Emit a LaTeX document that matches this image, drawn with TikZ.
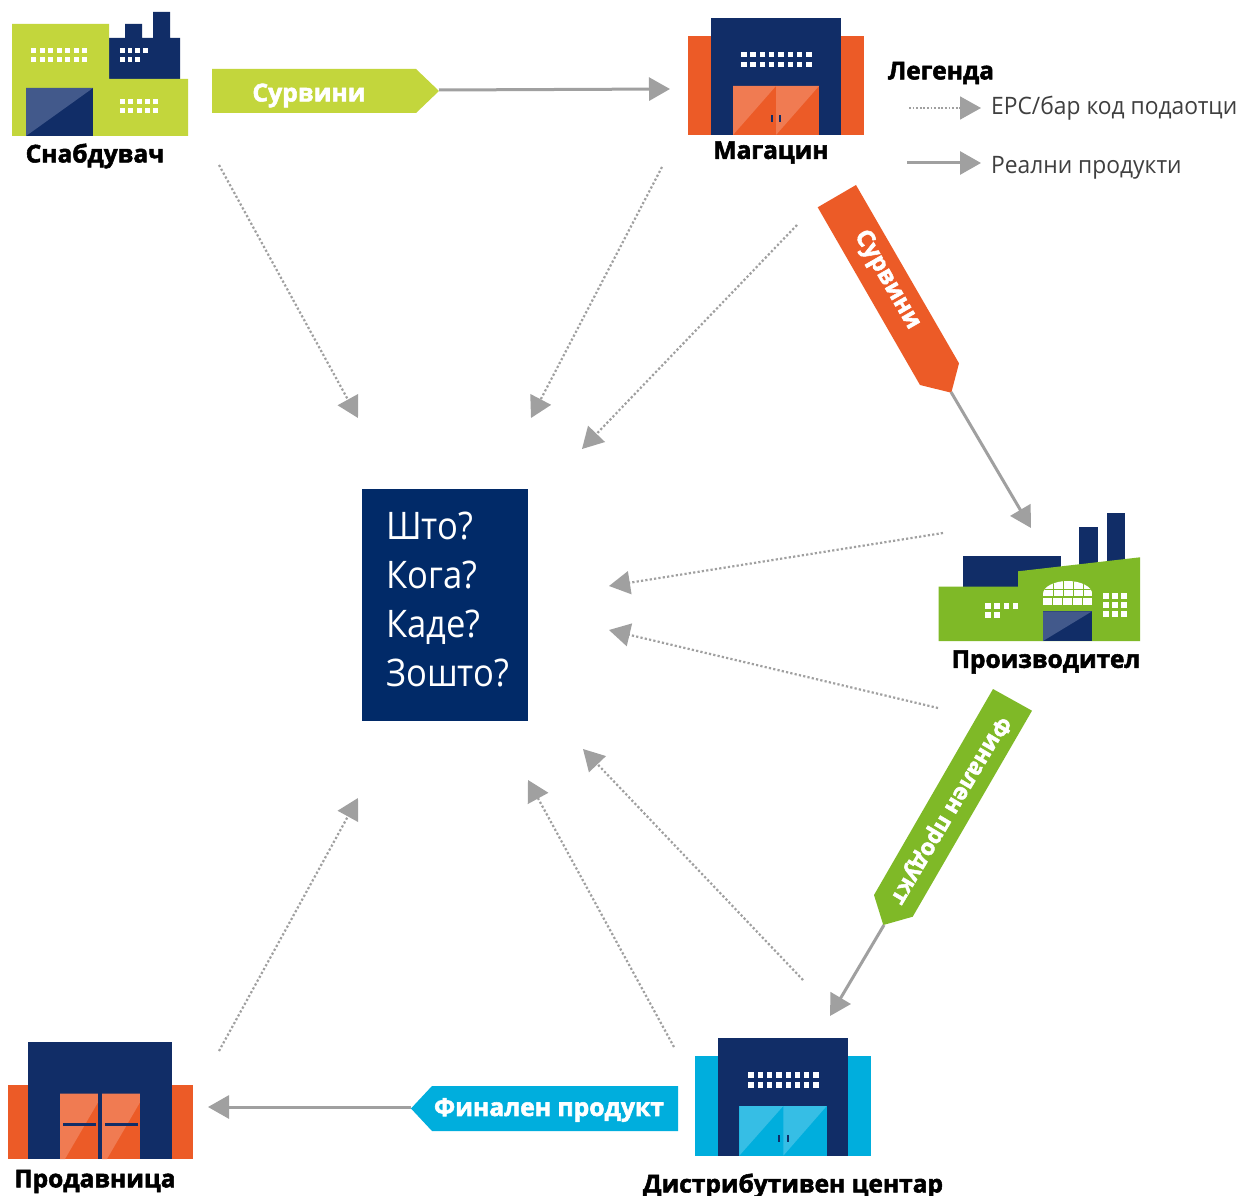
\documentclass[tikz,border=0pt]{standalone}
\usepackage{fontspec}
\setmainfont{Open Sans}
\newfontfamily\heavy[FakeBold=2.2]{Open Sans}
\newfontfamily\boxfont[FakeStretch=0.91]{Open Sans}
\newfontfamily\legfont[FakeStretch=0.95]{Open Sans}
\usetikzlibrary{arrows.meta}
\definecolor{navy}{HTML}{112D67}
\definecolor{boxnavy}{HTML}{012A68}
\definecolor{doornavy}{HTML}{42598B}
\definecolor{orangeM}{HTML}{EC5B27}
\definecolor{orangeL}{HTML}{F07B52}
\definecolor{lime}{HTML}{C3D63C}
\definecolor{greenM}{HTML}{7FB927}
\definecolor{blueM}{HTML}{00AEDD}
\definecolor{blueL}{HTML}{36BEE5}
\definecolor{arrowgray}{HTML}{A0A0A0}
\definecolor{legtext}{HTML}{3F3F3F}
\tikzset{
  flowsolid/.style={draw=arrowgray,line width=3pt,-{Triangle[length=21pt,width=23pt]}},
  flowdots/.style={draw=arrowgray,line width=2.2pt,dash pattern=on 2.2pt off 2.2pt,-{Triangle[length=21pt,width=23pt]}},
  legdots/.style={draw=arrowgray,line width=1.8pt,dash pattern=on 1.8pt off 1.8pt,-{Triangle[length=21pt,width=23pt]}},
  bldlabel/.style={font=\heavy\bfseries\fontsize{24.5}{26}\selectfont,text=black,inner sep=0pt},
  taglabel/.style={font=\heavy\bfseries\fontsize{24.7}{26}\selectfont,text=white,inner sep=0pt},
  legendtext/.style={font=\legfont\fontsize{24}{28}\selectfont,text=legtext,inner sep=0pt,anchor=west},
}
% x, y (top left), columns, rows, dx, dy, size w, size h, colour
\newcommand{\winGrid}[9]{%
  \foreach \cx in {1,...,#3}{\foreach \ry in {1,...,#4}{%
    \fill[#9] ({#1+(\cx-1)*#5},{#2+(\ry-1)*#6}) rectangle +(#7,#8);}}}
\begin{document}
\begin{tikzpicture}[x=1pt,y=-1pt]
\useasboundingbox (0,0) rectangle (1243,1196);
\fill[white] (0,0) rectangle (1243,1196);

% Supplier
\fill[navy] (109,38) -- (125,38) -- (125,24) -- (142,24) -- (142,38) -- (153,38) -- (153,12) -- (170,12) -- (170,38) -- (180,38) -- (180,79) -- (109,79) -- cycle;
\fill[lime] (12,24) -- (109,24) -- (109,79) -- (188,79) -- (188,136) -- (12,136) -- cycle;
\fill[navy] (26,88) rectangle (93,136);
\fill[doornavy] (26,88) -- (93,88) -- (26,136) -- cycle;
\winGrid{31}{48}{7}{2}{8.5}{9}{5}{5}{white}
\winGrid{120}{48}{4}{1}{7.7}{9}{4.5}{5}{white}
\winGrid{120}{57}{3}{1}{7.7}{9}{4.5}{5}{white}
\winGrid{120}{99}{5}{2}{8.3}{9.5}{5}{5}{white}
\node[bldlabel] (snab) at (95,156) {Снабдувач};

% Warehouse
\fill[orangeM] (688,36) rectangle (864,135);
\fill[navy] (711,18) rectangle (841,135);
\fill[orangeM] (733,86) rectangle (819,135);
\fill[orangeL] (733,86) -- (776,86) -- (733,135) -- cycle;
\fill[orangeL] (776,86) -- (819,86) -- (776,135) -- cycle;
\winGrid{741}{52}{8}{2}{9.3}{10}{5.5}{5.5}{white}
\fill[navy] (771,115) rectangle +(2,7);
\fill[navy] (779,115) rectangle +(2,7);
\node[bldlabel] (mag) at (771,152.5) {Магацин};

% Manufacturer
\fill[navy] (963,555.5) rectangle (1061,590);
\fill[navy] (1079,526.5) rectangle (1097.5,570);
\fill[navy] (1107,512.5) rectangle (1125,565);
\fill[greenM] (938.7,586.7) -- (1018,586.7) -- (1018,571.3) -- (1140,557.3) -- (1140,641) -- (938.7,641) -- cycle;
\fill[navy] (1043,611.3) rectangle (1092,641);
\fill[doornavy] (1043,641) -- (1043,611.3) -- (1092,611.3) -- cycle;
\begin{scope}
  \clip (1043,596) -- (1043,594) arc[start angle=180,end angle=360,x radius=24.6,y radius=13] -- (1092.2,596) -- cycle;
  \fill[white] (1043,581) rectangle (1092.2,596);
  \foreach \vx in {1052.5,1062.5,1072.5,1082.5} \fill[greenM] (\vx,580) rectangle +(1.3,17);
  \fill[greenM] (1043,589) rectangle (1093,590.2);
\end{scope}
\winGrid{1043}{598}{5}{1}{10}{0}{8.7}{7}{white}
\winGrid{985}{603}{4}{1}{9.3}{0}{5.5}{5.5}{white}
\winGrid{985}{612}{2}{1}{9.3}{0}{5.5}{5.5}{white}
\winGrid{1103}{593}{3}{3}{9}{9}{6}{6}{white}
\node[bldlabel] (proiz) at (1046,662) {Производител};

% Shop
\fill[orangeM] (7.7,1085.3) rectangle (192.7,1159);
\fill[navy] (27.7,1042) rectangle (172.3,1159);
\foreach \dl in {60,102}{
  \fill[orangeM] (\dl,1093.7) rectangle +(37.8,65.3);
  \fill[orangeL] (\dl,1093.7) -- +(37.8,0) -- +(37.8,9) -- +(5,65.3) -- +(0,65.3) -- cycle;
  \fill[navy] ({\dl+3.3},1123.2) rectangle +(32.5,2.4);
}
\node[bldlabel] (prod) at (95,1181.5) {Продавница};

% Distribution centre
\fill[blueM] (695.3,1055.7) rectangle (871,1155.7);
\fill[navy] (718.3,1038.3) rectangle (848.3,1155.7);
\fill[blueM] (739.3,1106) rectangle (826.7,1155.7);
\fill[blueL] (739.3,1106) -- (783.3,1106) -- (739.3,1155.7) -- cycle;
\fill[blueL] (783.3,1106) -- (826.7,1106) -- (783.3,1155.7) -- cycle;
\winGrid{748.3}{1072}{8}{2}{9.3}{10.3}{5.3}{5.5}{white}
\fill[navy] (777.5,1135) rectangle +(2,7);
\fill[navy] (786.5,1135) rectangle +(2,7);
\node[bldlabel] (dist) at (793,1186) {Дистрибутивен центар};

% Tags
\fill[lime] (212,69) -- (416,69) -- (439,91) -- (416,113) -- (212,113) -- cycle;
\node[taglabel] (tag1) at (309,95.5) {Сурвини};
\coordinate (tag1tip) at (439,90);
\fill[orangeM] (817.7,207.3) -- (856,185) -- (959,363.3) -- (951.3,392.7) -- (920,385) -- cycle;
\node[taglabel,rotate=-60,font=\heavy\bfseries\fontsize{24}{26}\selectfont] (tag2) at (887,280) {Сурвини};
\coordinate (tag2tip) at (951,392);
\fill[greenM] (993,689) -- (1032,710.7) -- (912.7,916.7) -- (883.3,925) -- (874,895) -- cycle;
\node[taglabel,rotate=-120.6,font=\heavy\bfseries\fontsize{23}{26}\selectfont] (tag3) at (950,810) {Финален продукт};
\coordinate (tag3tip) at (884,925);
\fill[blueM] (411,1108.5) -- (432,1086) -- (678,1086) -- (678,1131) -- (432,1131) -- cycle;
\node[taglabel] (tag4) at (549,1110) {Финален продукт};
\coordinate (tag4tip) at (411,1107);

% Centre box
\node[fill=boxnavy,text=white,minimum width=166pt,minimum height=232pt,inner sep=0pt] (box) at (445,605) {};
\node[text=white,inner sep=0pt,anchor=north west,align=left,font=\boxfont\fontsize{38}{49}\selectfont] (q) at (386,512) {Што?\\Кога?\\Каде?\\Зошто?};

% Connector ends
\coordinate (a1) at (670,89);
\coordinate (a2) at (1031,528);
\coordinate (a3) at (830,1016);
\coordinate (a4) at (208,1107);
\coordinate (d1s) at (219,165); \coordinate (d1e) at (358,418);
\coordinate (d2s) at (662,167); \coordinate (d2e) at (531,418);
\coordinate (d3s) at (797,225); \coordinate (d3e) at (582,449);
\coordinate (d4s) at (943,533); \coordinate (d4e) at (609,586);
\coordinate (d5s) at (938,708); \coordinate (d5e) at (609,630);
\coordinate (d6s) at (803,980); \coordinate (d6e) at (583,749);
\coordinate (d7s) at (674,1047); \coordinate (d7e) at (528,780);
\coordinate (d8s) at (219,1051); \coordinate (d8e) at (358,798);

\draw[flowsolid] (tag1tip) -- (a1);
\draw[flowsolid] (tag2tip) -- (a2);
\draw[flowsolid] (tag3tip) -- (a3);
\draw[flowsolid] (tag4tip) -- (a4);
\foreach \i in {1,...,8} \draw[flowdots] (d\i s) -- (d\i e);

% Legend
\node[inner sep=0pt,font=\heavy\bfseries\fontsize{24.5}{26}\selectfont] (leg) at (941,73) {Легенда};
\coordinate (l1s) at (909,108); \coordinate (l1e) at (981,108);
\coordinate (l2s) at (907,163); \coordinate (l2e) at (981,163);
\draw[legdots] (l1s) -- (l1e);
\draw[flowsolid] (l2s) -- (l2e);
\node[legendtext] (lt1) at (991,108) {EPC/бар код подаотци};
\node[legendtext] (lt2) at (991,168) {Реални продукти};
\end{tikzpicture}
\end{document}
